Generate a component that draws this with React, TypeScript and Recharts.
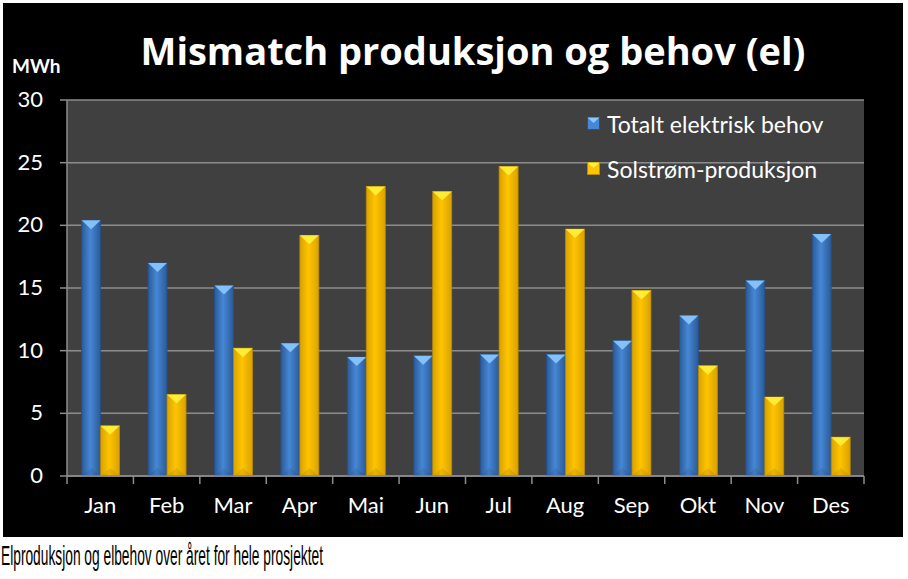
import React from "react";
import {
  BarChart,
  Bar,
  XAxis,
  YAxis,
  CartesianGrid,
} from "recharts";

const months = ["Jan", "Feb", "Mar", "Apr", "Mai", "Jun", "Jul", "Aug", "Sep", "Okt", "Nov", "Des"];
const behov = [20.4, 17.0, 15.2, 10.6, 9.5, 9.6, 9.7, 9.7, 10.8, 12.8, 15.6, 19.3];
const solstrom = [4.0, 6.5, 10.2, 19.2, 23.1, 22.7, 24.7, 19.7, 14.8, 8.8, 6.3, 3.1];
const yTicks = [0, 5, 10, 15, 20, 25, 30];

const seriesNames = ["Totalt elektrisk behov", "Solstrøm-produksjon"];

const data = months.map((m, i) => ({ month: m, behov: behov[i], solstrom: solstrom[i] }));

const CHART_W = 908;
const CHART_H = 540;
const MARGIN = { top: 100, right: 44, bottom: 0, left: 0 };
const Y_W = 67;
const X_H = 64;
const BAND = (CHART_W - MARGIN.left - MARGIN.right - Y_W) / months.length;
const AXIS = "#8c8c8c";
const FONT = "Lato, 'Open Sans', sans-serif";

const palette = {
  behov: { id: "gBlue", edge: "#2b5a96", mid: "#4687d6", cap: "#8cc8ff", line: "#23518a" },
  solstrom: { id: "gYellow", edge: "#d9a200", mid: "#ffc400", cap: "#fff23a", line: "#b88a00" },
};

const makeShape = (key: "behov" | "solstrom") => (props: any) => {
  const { x, y, width, height } = props;
  if (!height || height <= 0) return null;
  const p = palette[key];
  const capH = Math.min(9, height);
  return (
    <g>
      <rect x={x} y={y} width={width} height={height} fill={`url(#${p.id})`} stroke={p.line} strokeWidth={0.8} />
      <polygon
        points={`${x},${y} ${x + width},${y} ${x + width / 2},${y + capH}`}
        fill={p.cap}
        opacity={0.9}
      />
      <polygon
        points={`${x},${y + height} ${x + width},${y + height} ${x + width / 2},${y + height - 8}`}
        fill="#000"
        opacity={0.08}
      />
    </g>
  );
};

const XTick = (props: any) => {
  const { x, y, payload, index } = props;
  const top = y - 8;
  const left = x - BAND / 2;
  return (
    <g>
      <line x1={left} y1={top} x2={left} y2={y} stroke={AXIS} strokeWidth={1.5} />
      {index === months.length - 1 && (
        <line x1={x + BAND / 2} y1={top} x2={x + BAND / 2} y2={y} stroke={AXIS} strokeWidth={1.5} />
      )}
      <text x={x} y={y + 29} textAnchor="middle" fill="#fff" fontSize={22} fontFamily={FONT}>
        {payload.value}
      </text>
    </g>
  );
};

const YTick = (props: any) => {
  const { x, y, payload } = props;
  return (
    <text x={x} y={y + 7} textAnchor="end" fill="#fff" fontSize={22} fontFamily={FONT}>
      {payload.value}
    </text>
  );
};

const LegendBox = () => (
  <div style={{ fontFamily: FONT, color: "#fff", fontSize: 23, lineHeight: "26px" }}>
    {(["behov", "solstrom"] as const).map((k, i) => (
      <div key={k} style={{ display: "flex", alignItems: "center", height: 45 }}>
        <svg width={14} height={14} style={{ marginRight: 6 }}>
          <rect x={0.5} y={0.5} width={12} height={12} fill={palette[k].mid} stroke={palette[k].line} />
          <polygon points="0.5,0.5 12.5,0.5 6.5,6" fill={palette[k].cap} />
        </svg>
        <span>{seriesNames[i]}</span>
      </div>
    ))}
  </div>
);

export default function App() {
  return (
    <div style={{ position: "absolute", left: 0, top: 0, width: 908, height: 579, background: "#fff" }}>
      <div style={{ position: "absolute", left: 3, top: 3, width: 900, height: 534, background: "#000" }} />
      <div style={{ position: "absolute", left: 0, top: 0 }}>
        <BarChart
          width={CHART_W}
          height={CHART_H}
          data={data}
          margin={MARGIN}
          barCategoryGap="22%"
          barGap={0}
        >
          <defs>
            {(["behov", "solstrom"] as const).map((k) => (
              <linearGradient key={k} id={palette[k].id} x1="0" y1="0" x2="1" y2="0">
                <stop offset="0%" stopColor={palette[k].edge} />
                <stop offset="45%" stopColor={palette[k].mid} />
                <stop offset="100%" stopColor={palette[k].edge} />
              </linearGradient>
            ))}
          </defs>
          <CartesianGrid vertical={false} stroke={AXIS} strokeWidth={1.5} fill="#404040" />
          <XAxis
            dataKey="month"
            height={X_H}
            tickSize={8}
            tickMargin={0}
            tickLine={false}
            axisLine={{ stroke: AXIS, strokeWidth: 1.5 }}
            tick={<XTick />}
            interval={0}
          />
          <YAxis
            width={Y_W}
            domain={[0, 30]}
            ticks={yTicks}
            tickSize={7}
            tickMargin={17}
            tickLine={{ stroke: AXIS, strokeWidth: 1.5 }}
            axisLine={{ stroke: AXIS, strokeWidth: 1.5 }}
            tick={<YTick />}
          />
          <Bar dataKey="behov" name={seriesNames[0]} fill={palette.behov.mid} shape={makeShape("behov")} isAnimationActive={false} />
          <Bar dataKey="solstrom" name={seriesNames[1]} fill={palette.solstrom.mid} shape={makeShape("solstrom")} isAnimationActive={false} />
        </BarChart>
      </div>
      <div style={{ position: "absolute", left: 587, top: 101 }}>
        <LegendBox />
      </div>
      <div
        style={{
          position: "absolute",
          left: 100,
          top: 26,
          width: 746,
          textAlign: "center",
          color: "#fff",
          fontFamily: "'Open Sans', Lato, sans-serif",
          fontWeight: 700,
          fontSize: 38,
          lineHeight: "48px",
          whiteSpace: "nowrap",
        }}
      >
        Mismatch produksjon og behov (el)
      </div>
      <div
        style={{
          position: "absolute",
          left: 12,
          top: 54,
          color: "#fff",
          fontFamily: FONT,
          fontWeight: 700,
          fontSize: 19,
        }}
      >
        MWh
      </div>
      <svg style={{ position: "absolute", left: 0, top: 538 }} width={908} height={41}>
        <text
          x={1}
          y={27}
          fontFamily="'Liberation Sans', Arial, sans-serif"
          fontSize={28}
          fill="#000"
          textLength={322}
          lengthAdjust="spacingAndGlyphs"
        >
          Elproduksjon og elbehov over året for hele prosjektet
        </text>
      </svg>
    </div>
  );
}
